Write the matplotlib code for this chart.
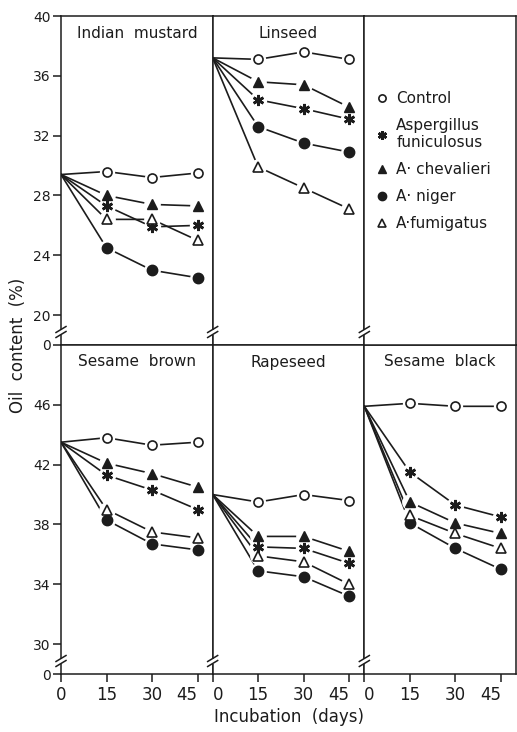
import matplotlib
matplotlib.use('Agg')
import matplotlib.pyplot as plt
from matplotlib.lines import Line2D

plt.rcParams['font.family'] = ['DejaVu Sans']

days = [0, 15, 30, 45]
treatments = ['Control', 'Aspergillus\nfuniculosus', 'A· chevalieri', 'A· niger', 'A·fumigatus']

# oil content (%), rows follow the order of `treatments`
indian_mustard = [
    [29.4, 29.6, 29.2, 29.5],
    [29.4, 27.3, 25.9, 26.0],
    [29.4, 28.0, 27.4, 27.3],
    [29.4, 24.5, 23.0, 22.5],
    [29.4, 26.4, 26.4, 25.0],
]
linseed = [
    [37.2, 37.1, 37.6, 37.1],
    [37.2, 34.4, 33.8, 33.1],
    [37.2, 35.6, 35.4, 33.9],
    [37.2, 32.6, 31.5, 30.9],
    [37.2, 29.9, 28.5, 27.1],
]
sesame_brown = [
    [43.5, 43.8, 43.3, 43.5],
    [43.5, 41.3, 40.3, 39.0],
    [43.5, 42.1, 41.4, 40.5],
    [43.5, 38.3, 36.7, 36.3],
    [43.5, 39.0, 37.5, 37.1],
]
rapeseed = [
    [40.0, 39.5, 40.0, 39.6],
    [40.0, 36.5, 36.4, 35.4],
    [40.0, 37.2, 37.2, 36.2],
    [40.0, 34.9, 34.5, 33.2],
    [40.0, 35.9, 35.5, 34.0],
]
sesame_black = [
    [45.9, 46.1, 45.9, 45.9],
    [45.9, 41.5, 39.3, 38.5],
    [45.9, 39.5, 38.1, 37.4],
    [45.9, 38.1, 36.4, 35.0],
    [45.9, 38.6, 37.4, 36.4],
]

top_ticks = [20, 24, 28, 32, 36, 40]
bottom_ticks = [30, 34, 38, 42, 46]
x_ticks = [0, 15, 30, 45]

ink = '#1c1c1c'
styles = [
    dict(marker='o', markerfacecolor='white', markersize=6.5, markeredgewidth=1.2),
    dict(marker=(6, 2, 0), markerfacecolor=ink, markersize=8, markeredgewidth=1.9),
    dict(marker='^', markerfacecolor=ink, markersize=7.5, markeredgewidth=1.0),
    dict(marker='o', markerfacecolor=ink, markersize=7.5, markeredgewidth=1.0),
    dict(marker='^', markerfacecolor='white', markersize=7.5, markeredgewidth=1.2),
]

fig = plt.figure(figsize=(5.17, 7.32), dpi=100)
gs = fig.add_gridspec(2, 3, left=61 / 517, right=516 / 517,
                      top=1 - 16 / 732, bottom=1 - 674 / 732,
                      wspace=0, hspace=0)


def add_break(ax):
    # "//" mark on the left spine where the y axis jumps to zero
    pos = ax.get_position()
    wpx = pos.width * fig.bbox.width
    hpx = pos.height * fig.bbox.height
    yc = 13
    ax.plot([0, 0], [(yc - 2.5) / hpx, (yc + 2.5) / hpx], color='white', lw=3,
            transform=ax.transAxes, clip_on=False, zorder=5, solid_capstyle='butt')
    for off in (-2.5, 2.5):
        ax.plot([-5 / wpx, 5 / wpx], [(yc + off - 3) / hpx, (yc + off + 3) / hpx],
                color=ink, lw=1.1, transform=ax.transAxes, clip_on=False, zorder=6)


def style_axes(ax, ylim, ticks, col, bottom_row):
    ax.set_xlim(0, 50)
    ax.set_ylim(*ylim)
    for sp in ax.spines.values():
        sp.set_color(ink)
        sp.set_linewidth(1.1)
    if col == 0:
        ax.set_yticks([ylim[0]] + ticks)
        ax.set_yticklabels(['0'] + [str(t) for t in ticks], fontsize=10, color=ink)
        ax.tick_params(axis='y', direction='out', length=6, width=1.1, pad=1.5, color=ink)
    else:
        ax.set_yticks([])
    if bottom_row:
        ax.set_xticks(x_ticks)
        labels = ax.set_xticklabels([str(d) for d in x_ticks], fontsize=12, color=ink)
        # keep "45" and the next panel's "0" apart at the shared border
        labels[-1].set_ha('right')
        if col > 0:
            labels[0].set_ha('left')
        ax.tick_params(axis='x', direction='out', length=6, width=1.1, pad=3, color=ink)
    else:
        ax.set_xticks([])
    add_break(ax)


def draw_crop(ax, name, series):
    ax.text(0.5, 1 - 17 / 329, name, transform=ax.transAxes, ha='center', va='center',
            fontsize=11, color=ink)
    for vals in series:
        ax.plot(days, vals, color=ink, lw=1.2, zorder=2)
    for vals, st in zip(series, styles):
        ax.plot(days[1:], vals[1:], linestyle='none', marker='o', color='white',
                markersize=st['markersize'] + 3.5, zorder=3)
    for vals, st in zip(series, styles):
        ax.plot(days[1:], vals[1:], linestyle='none', color=ink, markeredgecolor=ink,
                zorder=4, **st)


panels = [
    (0, 0, 'Indian  mustard', indian_mustard),
    (0, 1, 'Linseed', linseed),
    (1, 0, 'Sesame  brown', sesame_brown),
    (1, 1, 'Rapeseed', rapeseed),
    (1, 2, 'Sesame  black', sesame_black),
]

for row, col, name, series in panels:
    ax = fig.add_subplot(gs[row, col])
    if row == 0:
        style_axes(ax, (18, 40), top_ticks, col, False)
    else:
        style_axes(ax, (28, 50), bottom_ticks, col, True)
    draw_crop(ax, name, series)

# empty upper-right panel carries the key
ax_key = fig.add_subplot(gs[0, 2])
style_axes(ax_key, (18, 40), top_ticks, 2, False)
handles = [Line2D([], [], linestyle='none', color=ink, markeredgecolor=ink, **st) for st in styles]
ax_key.legend(handles, treatments, loc='upper left', bbox_to_anchor=(0.069, 0.772),
              frameon=False, fontsize=11, handlelength=1.0, handletextpad=0.4,
              labelspacing=0.78, borderpad=0, borderaxespad=0, markerscale=0.8,
              labelcolor=ink)

fig.text(18 / 517, 1 - 345 / 732, 'Oil  content  (%)', rotation=90, ha='center', va='center',
         fontsize=12, color=ink)
fig.text(289 / 517, 1 - 717 / 732, 'Incubation  (days)', ha='center', va='center',
         fontsize=12, color=ink)

fig.savefig('out.png', dpi=100)
